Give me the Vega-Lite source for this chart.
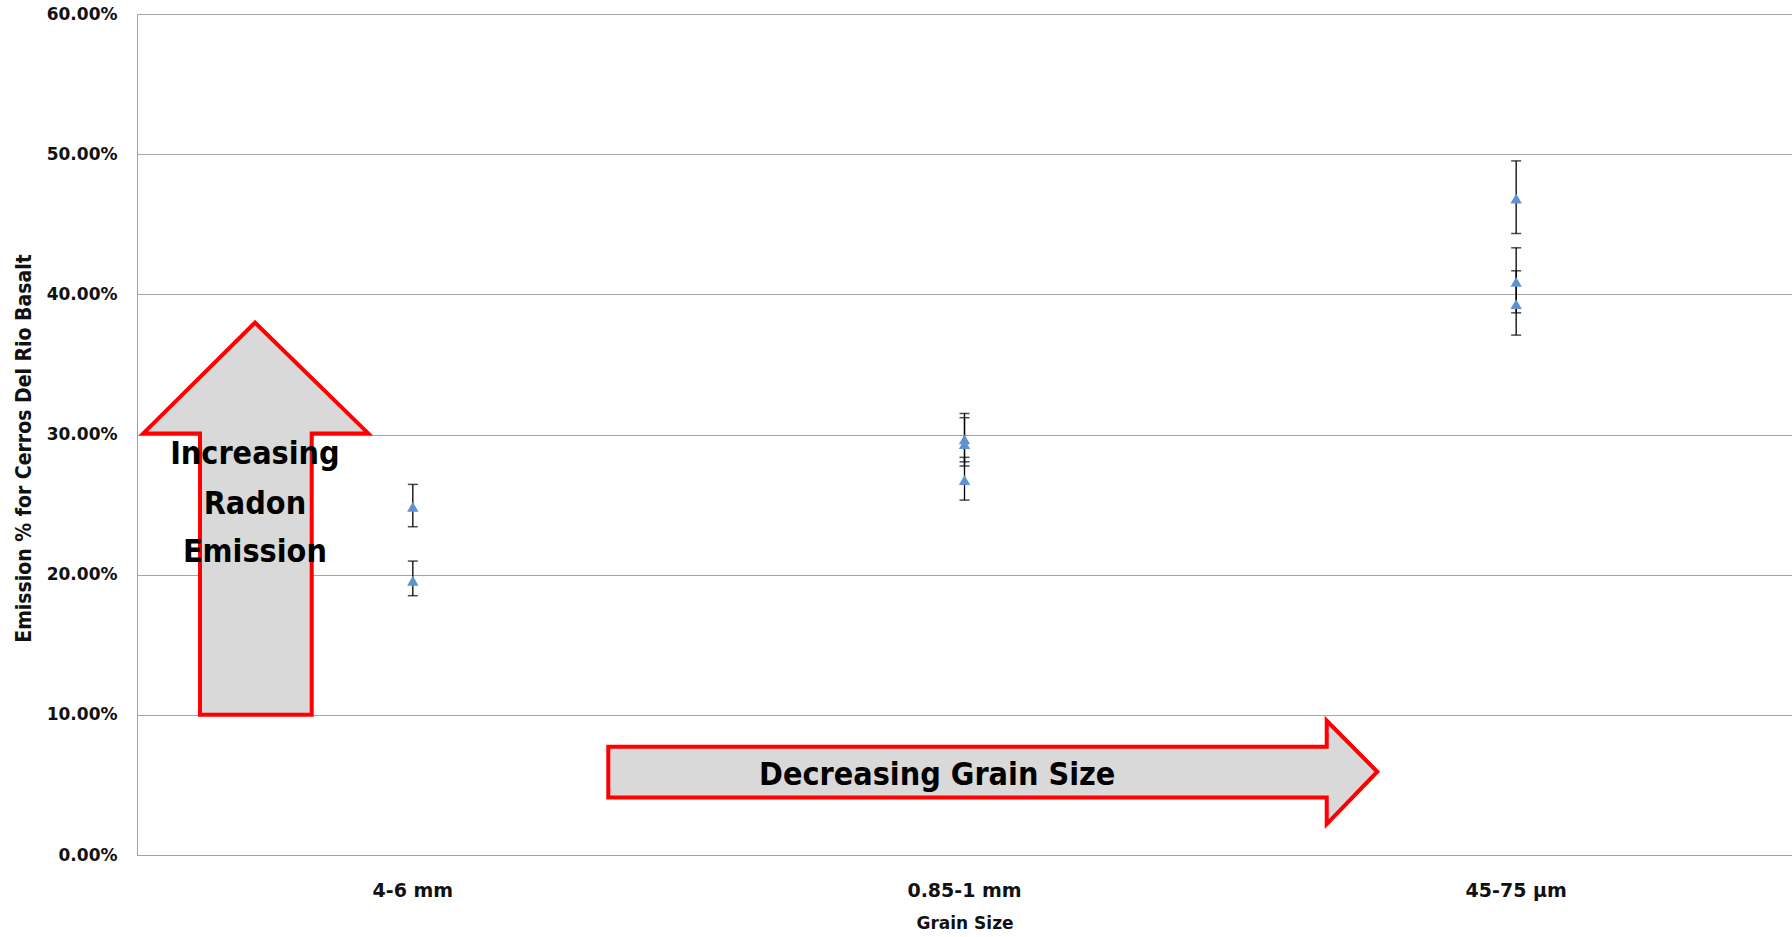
{
  "$schema": "https://vega.github.io/schema/vega-lite/v6.json",
  "width": 1655,
  "height": 841,
  "autosize": "none",
  "padding": {"left": 137, "top": 14, "right": 0, "bottom": 82},
  "background": "white",
  "config": {
    "view": {"stroke": null},
    "axis": {"domainColor": "#a0a0a0", "ticks": false, "gridColor": "#a6a6a6", "labelColor": "#111111", "titleColor": "#111111"},
    "axisY": {"labelFont": "DejaVu Sans", "labelFontWeight": "bold", "labelFontSize": 17, "labelPadding": 20, "titleFont": "DejaVu Sans Condensed", "titleFontSize": 21, "titleFontWeight": "bold", "titlePadding": 12, "titleY": 434, "grid": true},
    "axisX": {"labelFont": "DejaVu Sans", "labelFontWeight": "bold", "labelFontSize": 19, "labelAngle": 0, "labelPadding": 26, "titleFont": "DejaVu Sans", "titleFontSize": 17, "titleFontWeight": "bold", "titlePadding": 15, "grid": false}
  },
  "datasets": {
    "obs": [
      {"grain": "4-6 mm", "v": 24.84, "lo": 23.42, "hi": 26.44},
      {"grain": "4-6 mm", "v": 19.57, "lo": 18.5, "hi": 20.97},
      {"grain": "0.85-1 mm", "v": 29.65, "lo": 27.75, "hi": 31.5},
      {"grain": "0.85-1 mm", "v": 29.32, "lo": 28.05, "hi": 31.2},
      {"grain": "0.85-1 mm", "v": 26.75, "lo": 25.32, "hi": 28.37},
      {"grain": "45-75 µm", "v": 46.84, "lo": 44.34, "hi": 49.52},
      {"grain": "45-75 µm", "v": 40.89, "lo": 38.68, "hi": 43.32},
      {"grain": "45-75 µm", "v": 39.3, "lo": 37.09, "hi": 41.68}
    ],
    "up": [
      {"i": 1, "ax": 0.1142, "v": 10.0},
      {"i": 2, "ax": 0.1142, "v": 30.08},
      {"i": 3, "ax": 0.0114, "v": 30.08},
      {"i": 4, "ax": 0.2139, "v": 37.98},
      {"i": 5, "ax": 0.4193, "v": 30.08},
      {"i": 6, "ax": 0.3167, "v": 30.08},
      {"i": 7, "ax": 0.3167, "v": 10.0}
    ],
    "right": [
      {"i": 1, "ax": 0.8543, "v": 4.1},
      {"i": 2, "ax": 0.8543, "v": 7.73},
      {"i": 3, "ax": 2.1566, "v": 7.73},
      {"i": 4, "ax": 2.1566, "v": 9.58},
      {"i": 5, "ax": 2.2483, "v": 5.94},
      {"i": 6, "ax": 2.1566, "v": 2.21},
      {"i": 7, "ax": 2.1566, "v": 4.1}
    ],
    "notes": [
      {"label": "Increasing", "ax": 0.2137, "v": 28.62},
      {"label": "Radon", "ax": 0.2137, "v": 25.04},
      {"label": "Emission", "ax": 0.2137, "v": 21.6},
      {"label": "Decreasing Grain Size", "ax": 1.4504, "v": 5.71}
    ]
  },
  "layer": [
    {
      "data": {"name": "obs"},
      "layer": [
        {
          "mark": {"type": "rule", "color": "#000000", "strokeWidth": 1.3},
          "encoding": {
            "x": {"field": "grain", "type": "nominal", "sort": ["4-6 mm", "0.85-1 mm", "45-75 µm"], "title": "Grain Size"},
            "y": {"field": "lo", "type": "quantitative", "scale": {"domain": [0, 60]}, "title": "Emission % for Cerros Del Rio Basalt", "axis": {"values": [0, 10, 20, 30, 40, 50, 60], "labelExpr": "format(datum.value / 100, '.2%')"}},
            "y2": {"field": "hi"}
          }
        },
        {
          "mark": {"type": "tick", "color": "#000000", "size": 10, "thickness": 1.5},
          "encoding": {
            "x": {"field": "grain", "type": "nominal", "sort": ["4-6 mm", "0.85-1 mm", "45-75 µm"], "title": "Grain Size"},
            "y": {"field": "lo", "type": "quantitative", "scale": {"domain": [0, 60]}, "title": "Emission % for Cerros Del Rio Basalt", "axis": {"values": [0, 10, 20, 30, 40, 50, 60], "labelExpr": "format(datum.value / 100, '.2%')"}}
          }
        },
        {
          "mark": {"type": "tick", "color": "#000000", "size": 10, "thickness": 1.5},
          "encoding": {
            "x": {"field": "grain", "type": "nominal", "sort": ["4-6 mm", "0.85-1 mm", "45-75 µm"], "title": "Grain Size"},
            "y": {"field": "hi", "type": "quantitative", "scale": {"domain": [0, 60]}, "title": "Emission % for Cerros Del Rio Basalt", "axis": {"values": [0, 10, 20, 30, 40, 50, 60], "labelExpr": "format(datum.value / 100, '.2%')"}}
          }
        },
        {
          "mark": {"type": "point", "shape": "triangle-up", "filled": true, "color": "#5f93d0", "opacity": 1, "size": 130},
          "encoding": {
            "x": {"field": "grain", "type": "nominal", "sort": ["4-6 mm", "0.85-1 mm", "45-75 µm"], "title": "Grain Size"},
            "y": {"field": "v", "type": "quantitative", "scale": {"domain": [0, 60]}, "title": "Emission % for Cerros Del Rio Basalt", "axis": {"values": [0, 10, 20, 30, 40, 50, 60], "labelExpr": "format(datum.value / 100, '.2%')"}}
          }
        }
      ]
    },
    {
      "layer": [
        {
          "data": {"name": "up"},
          "mark": {"type": "line", "interpolate": "linear-closed", "fill": "#d9d9d9", "stroke": "#ff0000", "strokeWidth": 4, "strokeJoin": "miter"},
          "encoding": {
            "x": {"field": "ax", "type": "quantitative", "scale": {"domain": [0, 3], "nice": false, "zero": false}, "axis": null},
            "y": {"field": "v", "type": "quantitative", "scale": {"domain": [0, 60]}, "title": "Emission % for Cerros Del Rio Basalt", "axis": {"values": [0, 10, 20, 30, 40, 50, 60], "labelExpr": "format(datum.value / 100, '.2%')"}},
            "order": {"field": "i"}
          }
        },
        {
          "data": {"name": "right"},
          "mark": {"type": "line", "interpolate": "linear-closed", "fill": "#d9d9d9", "stroke": "#ff0000", "strokeWidth": 4, "strokeJoin": "miter"},
          "encoding": {
            "x": {"field": "ax", "type": "quantitative", "scale": {"domain": [0, 3], "nice": false, "zero": false}, "axis": null},
            "y": {"field": "v", "type": "quantitative", "scale": {"domain": [0, 60]}, "title": "Emission % for Cerros Del Rio Basalt", "axis": {"values": [0, 10, 20, 30, 40, 50, 60], "labelExpr": "format(datum.value / 100, '.2%')"}},
            "order": {"field": "i"}
          }
        },
        {
          "data": {"name": "notes"},
          "mark": {"type": "text", "font": "DejaVu Sans Condensed", "fontWeight": "bold", "fontSize": 32, "color": "#000000", "align": "center", "baseline": "middle"},
          "encoding": {
            "x": {"field": "ax", "type": "quantitative", "scale": {"domain": [0, 3], "nice": false, "zero": false}, "axis": null},
            "y": {"field": "v", "type": "quantitative", "scale": {"domain": [0, 60]}, "title": "Emission % for Cerros Del Rio Basalt", "axis": {"values": [0, 10, 20, 30, 40, 50, 60], "labelExpr": "format(datum.value / 100, '.2%')"}},
            "text": {"field": "label"}
          }
        }
      ]
    }
  ],
  "resolve": {"scale": {"x": "independent"}}
}
